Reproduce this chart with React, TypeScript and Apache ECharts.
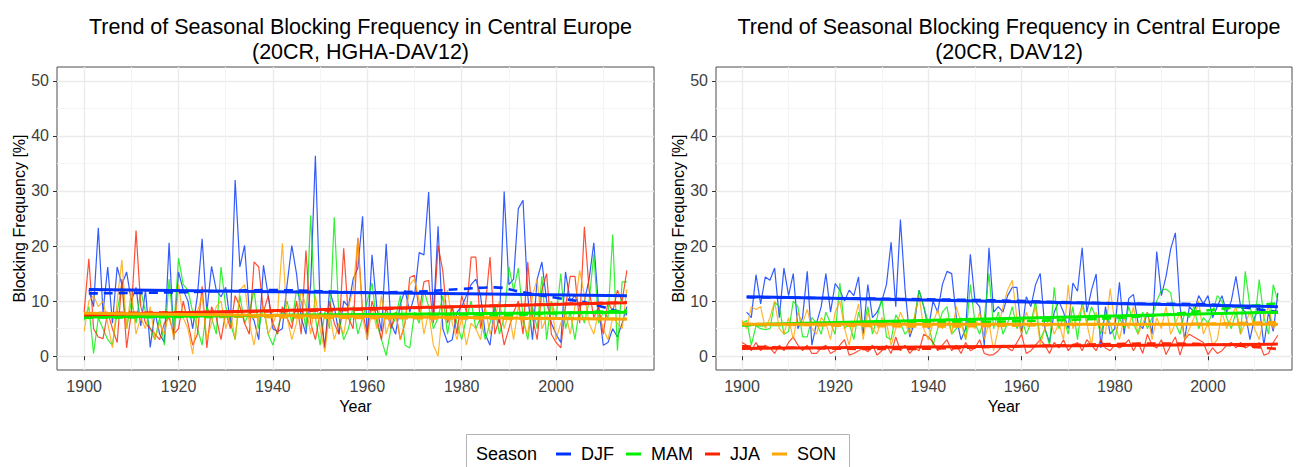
import React, { useEffect, useRef } from "react";
import * as echarts from "echarts";

const FONT = "'Liberation Sans', Arial, Helvetica, sans-serif";
const SEASONS = ["DJF", "MAM", "JJA", "SON"];
const COLORS = ["#0033FF", "#00EE00", "#FF2200", "#FFA500"];
const START_YEAR = [1901, 1900, 1900, 1900];
const END_YEAR = 2015;
const X_TICKS = [1900, 1920, 1940, 1960, 1980, 2000];
const X_MINOR = [1910, 1930, 1950, 1970, 1990, 2010];
const Y_TICKS = [0, 10, 20, 30, 40, 50];
const Y_MINOR = [5, 15, 25, 35, 45];
const TITLES = [
  "Trend of Seasonal Blocking Frequency in Central Europe\n(20CR, HGHA-DAV12)",
  "Trend of Seasonal Blocking Frequency in Central Europe\n(20CR, DAV12)",
];

// ---- Left panel (20CR, HGHA-DAV12) ----
const L_DJF = [
  12, 9, 23.3, 8, 16.2, 6, 16.2, 13, 15.3, 10,
  12.5, 5.5, 12, 1.6, 8, 4, 2.5, 20.6, 3, 15.3,
  12, 10, 5, 11, 21.3, 8, 16.3, 12, 10.8, 12.5,
  6, 32, 16.2, 20.1, 8, 6.5, 3, 16.5, 11, 5,
  4.5, 5, 13, 20.1, 15, 7, 4, 13, 36.4, 9,
  1.5, 12, 9, 4, 10, 9, 14, 16, 25.4, 3,
  18.4, 9, 4.5, 20.4, 6, 4, 9.5, 12, 8, 11,
  18.8, 18.4, 29.8, 7, 23.6, 5, 2.5, 3, 8, 9,
  11, 13, 14, 11, 4, 2, 9, 6, 29.9, 13,
  14, 26.8, 28.3, 11, 3, 14, 17.1, 10, 6, 4,
  2.5, 15.3, 10, 11, 9, 10, 14, 20.6, 9, 2,
  2.5, 5, 3.5, 6, 9,
];
const L_MAM = [
  6.5, 9, 0.5, 7, 5, 3, 2, 8, 13, 5,
  10, 6, 12, 8, 5, 3, 7, 2, 14, 5,
  17.8, 13, 12, 8, 5, 2, 9, 7, 4, 16.2,
  9, 6, 3, 11, 6, 8, 12, 5, 9, 4,
  2, 5, 8, 10, 6, 12, 10, 5, 25.6, 7,
  2, 8, 5, 25.2, 7, 3, 5, 9, 4, 7,
  10, 13.3, 6, 3, 0.1, 5, 7, 11, 2, 1.5,
  8, 6, 12, 9, 5, 7, 11, 4, 9, 6,
  3, 7, 10, 5, 7, 3, 6, 9, 4, 7,
  16.2, 12, 16, 7, 3, 9, 5, 14.5, 3, 10,
  7, 15, 5, 8, 3, 9, 6, 10, 18.5, 6,
  8, 7, 22.1, 1, 13.5, 13.5,
];
const L_JJA = [
  8, 17.7, 5, 3.5, 3.2, 8, 5, 2.5, 14, 1.5,
  8, 22.8, 9, 6, 5, 4, 3, 6, 7, 4,
  5, 10, 6, 2, 4, 12.7, 1.5, 9, 7, 3,
  8, 5, 11, 9, 6, 4, 17.1, 16.2, 8, 11,
  6, 4, 9, 7, 5, 10, 4, 19.2, 6, 3,
  8, 1.5, 10, 6, 4, 19.6, 7, 5, 21.5, 8,
  4, 10, 7, 3, 9, 5, 8, 3, 6, 14.3,
  14.7, 8, 13.5, 13.8, 6, 20.1, 15.5, 6, 9, 4,
  11, 8, 18, 18, 5, 9, 18, 4, 7, 2,
  5, 8, 10, 4, 17.1, 7, 3, 12, 15, 4,
  2.5, 1.5, 9, 14.5, 14.5, 6, 23.5, 12, 7, 9,
  4, 10, 8, 12, 10, 15.6,
];
const L_SON = [
  4.5, 10, 11, 9, 10, 6, 1.5, 10, 17.5, 5,
  12, 4, 7, 5, 9, 3, 6, 4, 8, 3,
  13, 7, 5, 0.4, 8, 11, 3, 6, 9, 10,
  5, 8, 3, 12, 13, 6, 2, 7, 9, 4,
  6, 8, 20.5, 7, 3, 6, 12, 9, 4, 11,
  5, 0.8, 8, 3, 6, 4, 9, 12, 21.3, 7,
  3, 9, 5, 11, 4, 7, 8, 3, 6, 13,
  14, 10, 4, 8, 2, 0, 9, 12, 6, 3,
  7, 2, 6, 5, 3, 9, 4, 7, 10, 5,
  8, 3, 9, 6, 4, 11, 14, 5, 7, 10,
  3, 6, 8, 4, 9, 15.6, 11, 6, 4, 8,
  5, 3, 7, 6, 5, 12.2,
];
const L_TREND_START = [12.1, 7.1, 7.5, 7.8];
const L_TREND_END = [11.0, 8.0, 9.7, 6.7];
const L_DASH_DJF = [[1901, 11.4], [1920, 11.6], [1940, 12.0], [1960, 11.6], [1970, 11.7], [1980, 12.2], [1987, 12.5], [1993, 11.6], [2000, 10.6], [2007, 9.6], [2015, 7.6]];
const L_DASH_MAM = [[1900, 7.0], [1950, 7.2], [1980, 7.2], [2000, 7.8], [2015, 8.3]];
const L_DASH_JJA = [[1900, 7.8], [1950, 8.3], [1980, 9.0], [2015, 9.8]];
const L_DASH_SON = [[1900, 7.8], [1950, 7.0], [2015, 6.8]];

// ---- Right panel (20CR, DAV12) ----
const R_DJF = [
  8, 7, 14.8, 9.5, 14.4, 13.8, 16, 7, 16, 11,
  15, 5, 7, 15.4, 2, 6, 9, 15, 8, 13.2,
  12, 10, 12, 11, 14.4, 4, 13, 7, 8, 10,
  13, 20.7, 9, 24.8, 12, 3.5, 6, 12, 9, 5,
  10, 8, 13, 15.4, 15, 7, 3, 5, 18.5, 10,
  9, 2, 19.7, 8, 9, 8, 11, 12.5, 12.5, 4,
  10.8, 9, 13, 15, 5, 2.5, 8, 10, 8, 5,
  13.3, 11.8, 19.7, 8, 12, 14.9, 1.5, 9, 4, 5,
  13.4, 4, 10.5, 11.2, 6, 5, 8, 4, 19, 11,
  14.5, 19.5, 22.4, 9, 3, 9, 8, 11, 9.5, 11,
  7, 9, 11, 8, 10, 14.5, 9, 8, 3, 7,
  9, 2, 8, 4.5, 11.5,
];
const R_MAM = [
  6, 6.5, 2, 5.5, 5, 4.8, 5, 9.8, 9, 4,
  4.5, 10, 9, 3.5, 3.5, 7, 6, 4, 8, 6,
  4, 13.3, 5, 6, 3, 8, 5, 9, 4, 7,
  10.5, 3.5, 3, 7.5, 6, 4, 5, 7, 12, 9,
  6, 2, 5, 8, 9, 4, 5, 7, 3, 13,
  6, 4, 7, 15, 5, 8, 4, 6, 9, 5,
  7, 4, 6, 10, 3, 5, 2, 12.5, 5, 7,
  4, 9, 3, 10, 6, 9, 7, 4, 8, 6,
  3, 7, 5, 9, 6, 4, 8, 5, 7, 10,
  12, 12.2, 11.5, 6, 4, 8, 7, 9, 5, 7,
  6, 8, 11, 10, 7, 5, 8, 4, 15.4, 9,
  6, 13.9, 7, 4, 13, 10,
];
const R_JJA = [
  2.5, 2, 1, 2.5, 1, 2, 1.5, 0.5, 2, 1,
  2.5, 3.5, 2, 1, 2, 0.5, 0.5, 1.5, 2, 0.5,
  1, 2, 3, 0.2, 0.5, 1, 1.5, 0.8, 2, 0.2,
  1, 2, 0.5, 3.5, 1, 2, 0.5, 1.5, 1, 4,
  3.5, 2.5, 1, 2, 3, 1, 2, 0.5, 2.5, 1,
  1.5, 3, 0.5, 0.2, 0.3, 1, 2, 1.5, 1, 2.5,
  4, 0.5, 1, 2, 3, 2, 0.5, 2.5, 1.5, 3,
  1, 2, 2.5, 1, 3, 2, 1, 3, 1.5, 1,
  2, 1.5, 2, 3, 1, 2.5, 0.5, 4, 2, 1.5,
  3, 0.3, 2, 3.5, 0.2, 3, 4, 3.5, 3, 2.5,
  0.3, 1.5, 0.5, 1, 2, 2.5, 1.5, 2.5, 1.5, 2,
  1.5, 2.5, 0.2, 0.5, 2.5, 3.8,
];
const R_SON = [
  6.5, 5, 9, 8.5, 9, 5, 7, 10, 5, 4,
  7, 3, 8, 6, 8.5, 5, 4, 7, 6, 3,
  8, 10, 5, 2, 6, 9.5, 3, 8, 5, 4,
  7, 6, 2, 5, 8, 6, 4, 7, 11, 5,
  3, 6, 8.5, 5, 7, 4, 9, 6, 3, 7,
  5, 8, 3, 6, 1, 5, 9, 12, 13.8, 7,
  4, 8, 6, 9, 2, 5, 7, 4, 6, 3,
  12.9, 5, 7, 9, 6, 2, 8, 5, 4, 12.3,
  6, 3, 7, 5, 9, 4, 6, 8, 3, 7,
  5, 9, 4, 6, 8, 3, 5, 7, 10, 4,
  6, 2, 3, 8, 5, 7, 9, 4, 6, 8,
  5, 3, 7, 9, 5, 6,
];
const R_TREND_START = [10.8, 5.7, 1.4, 5.8];
const R_TREND_END = [9.0, 8.0, 2.2, 5.8];
const R_DASH_DJF = [[1901, 10.7], [1950, 10.2], [1980, 9.6], [2000, 9.4], [2015, 8.0]];
const R_DASH_MAM = [[1900, 5.6], [1940, 6.1], [1970, 6.6], [1990, 7.5], [2005, 8.8], [2015, 9.6]];
const R_DASH_JJA = [[1900, 1.8], [1930, 1.3], [1960, 1.8], [1990, 2.3], [2005, 2.0], [2015, 1.3]];
const R_DASH_SON = [[1900, 5.9], [1940, 5.4], [1970, 5.7], [2000, 5.9], [2015, 6.2]];

const PANELS = [
  { values: [L_DJF, L_MAM, L_JJA, L_SON], ts: L_TREND_START, te: L_TREND_END, dash: [L_DASH_DJF, L_DASH_MAM, L_DASH_JJA, L_DASH_SON] },
  { values: [R_DJF, R_MAM, R_JJA, R_SON], ts: R_TREND_START, te: R_TREND_END, dash: [R_DASH_DJF, R_DASH_MAM, R_DASH_JJA, R_DASH_SON] },
];

const GRIDS = [
  { left: 57, top: 67, width: 597, height: 303, xMin: 1894.25, xMax: 2020.75 },
  { left: 716, top: 67, width: 576, height: 303, xMin: 1894.42, xMax: 2018.03 },
];

function buildOption() {
  const xAxis: any[] = [];
  const yAxis: any[] = [];
  const series: any[] = [];
  const grid: any[] = [];
  const title: any[] = [];

  GRIDS.forEach((g, gi) => {
    grid.push({ left: g.left, top: g.top, width: g.width, height: g.height, show: true, borderColor: "#4d4d4d", borderWidth: 1, backgroundColor: "#fff" });
    title.push({
      text: TITLES[gi],
      left: g.left + g.width / 2,
      top: 9,
      textAlign: "center",
      textStyle: { fontSize: 21.5, fontWeight: "normal", color: "#000", lineHeight: 25, fontFamily: FONT },
    });
    xAxis.push({
      type: "value", gridIndex: gi, min: g.xMin, max: g.xMax,
      axisLine: { show: false },
      axisTick: { show: true, customValues: X_TICKS, length: 4, lineStyle: { color: "#333" } },
      axisLabel: { customValues: X_TICKS, fontSize: 16, color: "#404040", margin: 8, fontFamily: FONT, formatter: (v: number) => String(v) },
      splitLine: { show: true, lineStyle: { color: "#ebebeb", width: 1.4 } },
      name: "Year", nameLocation: "middle", nameGap: 25,
      nameTextStyle: { fontSize: 16, color: "#000", fontFamily: FONT },
    });
    xAxis.push({
      type: "value", gridIndex: gi, min: g.xMin, max: g.xMax,
      axisLine: { show: false },
      axisTick: { show: false, customValues: X_MINOR },
      axisLabel: { show: false },
      splitLine: { show: true, lineStyle: { color: "#f4f4f4", width: 1 } },
    });
    yAxis.push({
      type: "value", gridIndex: gi, min: -2.5, max: 52.5,
      axisLine: { show: false },
      axisTick: { show: true, customValues: Y_TICKS, length: 4, lineStyle: { color: "#333" } },
      axisLabel: { customValues: Y_TICKS, fontSize: 16, color: "#404040", margin: 8, fontFamily: FONT },
      splitLine: { show: true, lineStyle: { color: "#ebebeb", width: 1.4 } },
      name: "Blocking Frequency [%]", nameLocation: "middle", nameGap: 30, nameRotate: 90,
      nameTextStyle: { fontSize: 16, color: "#000", fontFamily: FONT },
    });
    yAxis.push({
      type: "value", gridIndex: gi, min: -2.5, max: 52.5,
      axisLine: { show: false },
      axisTick: { show: false, customValues: Y_MINOR },
      axisLabel: { show: false },
      splitLine: { show: true, lineStyle: { color: "#f4f4f4", width: 1 } },
    });

    const p = PANELS[gi];
    const xi = gi * 2;
    const yi = gi * 2;
    SEASONS.forEach((s, si) => {
      series.push({
        name: s, type: "line", xAxisIndex: xi, yAxisIndex: yi,
        data: p.values[si].map((v, k) => [START_YEAR[si] + k, v]),
        showSymbol: false, symbol: "none", silent: true, z: 2,
        itemStyle: { color: COLORS[si] },
        lineStyle: { color: COLORS[si], width: 1.2, opacity: 0.8 },
      });
    });
    SEASONS.forEach((s, si) => {
      series.push({
        name: s, type: "line", xAxisIndex: xi, yAxisIndex: yi,
        data: p.dash[si],
        showSymbol: false, symbol: "none", silent: true, z: 3, smooth: 0.4,
        itemStyle: { color: COLORS[si] },
        lineStyle: { color: COLORS[si], width: 2.6, type: [9, 6] },
      });
      series.push({
        name: s, type: "line", xAxisIndex: xi, yAxisIndex: yi,
        data: [[START_YEAR[si], p.ts[si]], [END_YEAR, p.te[si]]],
        showSymbol: false, symbol: "none", silent: true, z: 4,
        itemStyle: { color: COLORS[si] },
        lineStyle: { color: COLORS[si], width: 3 },
      });
    });
  });

  return {
    animation: false,
    backgroundColor: "#fff",
    textStyle: { fontFamily: FONT },
    title,
    grid,
    xAxis,
    yAxis,
    series,
    legend: {
      data: SEASONS.map((s, i) => ({ name: s, itemStyle: { color: COLORS[i] } })),
      left: 551, top: 440, icon: "rect", itemWidth: 15, itemHeight: 3, itemGap: 12,
      selectedMode: false,
      textStyle: { fontSize: 18, color: "#000", fontFamily: FONT, padding: [0, 0, 0, 5] },
    },
    graphic: [
      { type: "rect", shape: { x: 466.5, y: 434.5, width: 383, height: 40 }, style: { fill: "#fff", stroke: "#b3b3b3", lineWidth: 1 }, z: 0 },
      { type: "text", x: 476, y: 454, style: { text: "Season", fontSize: 18, fill: "#000", fontFamily: FONT, verticalAlign: "middle" }, z: 1 },
    ],
  };
}

export default function App() {
  const ref = useRef<HTMLDivElement>(null);
  useEffect(() => {
    if (!ref.current) return;
    const chart = echarts.init(ref.current, null, { renderer: "svg" });
    chart.setOption(buildOption() as any);
    return () => chart.dispose();
  }, []);
  return (
    <div
      ref={ref}
      style={{ position: "fixed", left: 0, top: 0, width: 1298, height: 467, background: "#fff" }}
    />
  );
}
